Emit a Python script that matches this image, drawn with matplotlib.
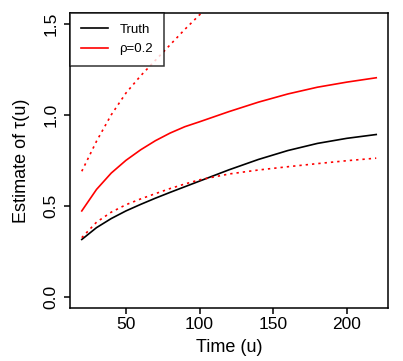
import matplotlib
matplotlib.use("Agg")
import matplotlib.pyplot as plt
from matplotlib.lines import Line2D

plt.rcParams['font.family'] = ['Liberation Sans', 'DejaVu Sans']

# Time grid and estimated curves
time_u = [20, 30, 40, 50, 60, 70, 80, 90, 100, 120, 140, 160, 180, 200, 220]
truth = [0.315, 0.38, 0.43, 0.472, 0.508, 0.542, 0.574, 0.605, 0.636, 0.698,
         0.755, 0.804, 0.843, 0.871, 0.892]
rho_est = [0.472, 0.59, 0.68, 0.75, 0.808, 0.858, 0.90, 0.935, 0.962, 1.018,
           1.07, 1.115, 1.152, 1.18, 1.204]
rho_upper = [0.69, 0.855, 1.0, 1.12, 1.215, 1.30, 1.385, 1.47, 1.55, 1.70,
             1.84, 1.97, 2.09, 2.21, 2.32]
rho_lower = [0.325, 0.41, 0.465, 0.506, 0.538, 0.567, 0.595, 0.62, 0.643, 0.675,
             0.697, 0.715, 0.732, 0.748, 0.762]

x_ticks = [50, 100, 150, 200]
y_ticks = [0.0, 0.5, 1.0, 1.5]
y_tick_labels = ["0.0", "0.5", "1.0", "1.5"]
legend_labels = ["Truth", "ρ=0.2"]

fig = plt.figure(figsize=(4.03, 3.61), dpi=100)
ax = fig.add_axes([70 / 403, 1 - 307.7 / 361, (388 - 70) / 403, (307.7 - 13) / 361])

red = "#FF0000"
dot = (0, (1.4, 2.4))
ax.plot(time_u, truth, color="black", lw=1.2)
ax.plot(time_u, rho_est, color=red, lw=1.2)
ax.plot(time_u, rho_upper, color=red, lw=1.2, linestyle=dot)
ax.plot(time_u, rho_lower, color=red, lw=1.2, linestyle=dot)

ax.set_xlim(12, 228)
ax.set_ylim(-0.06, 1.56)
ax.set_xticks(x_ticks)
ax.set_yticks(y_ticks)
ax.set_yticklabels(y_tick_labels, rotation=90, va="center")
ax.tick_params(axis="both", direction="out", length=4.5, width=1.1,
               labelsize=12.5, color="black")
ax.tick_params(axis="x", pad=2.5)
ax.tick_params(axis="y", pad=4)
for s in ax.spines.values():
    s.set_linewidth(1.1)

ax.set_xlabel("Time (u)", fontsize=13)
ax.xaxis.set_label_coords(0.5, (307.7 - 348) / 294.7)
ax.xaxis.label.set_va("center")
ax.set_ylabel("Estimate of τ(u)", fontsize=13)
ax.yaxis.set_label_coords((22 - 70) / 318, 0.5)
ax.yaxis.label.set_va("center")

handles = [Line2D([], [], color="black", lw=1.2), Line2D([], [], color=red, lw=1.2)]
leg = ax.legend(handles, legend_labels, loc="upper left", borderaxespad=0,
                fontsize=9.5, frameon=True, fancybox=False, handlelength=2.1,
                handletextpad=0.85, borderpad=0.8, labelspacing=0.55)
leg.get_frame().set_edgecolor("black")
leg.get_frame().set_linewidth(1.1)

fig.savefig("out.png", dpi=100)
